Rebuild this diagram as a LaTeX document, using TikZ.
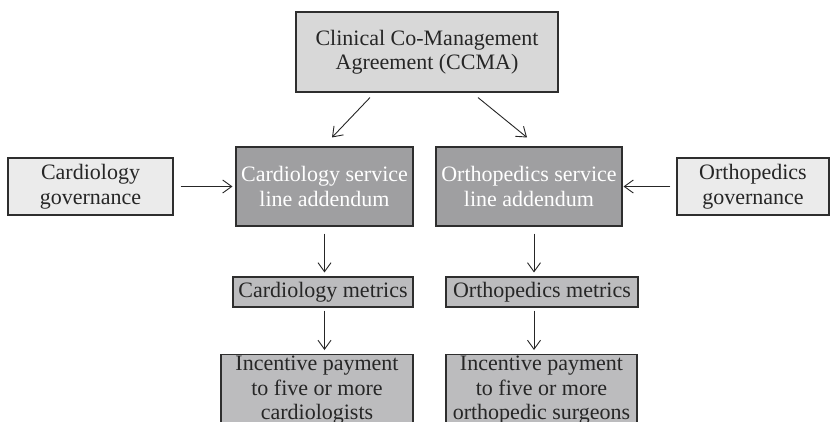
\documentclass[tikz,border=0pt]{standalone}
\usepackage{fontspec}
\setmainfont{Liberation Serif}
\usetikzlibrary{arrows.meta,calc}
\definecolor{boxline}{HTML}{2E2E2E}
\definecolor{topfill}{HTML}{D8D8D8}
\definecolor{govfill}{HTML}{EBEBEB}
\definecolor{addfill}{HTML}{9F9FA1}
\definecolor{metfill}{HTML}{BCBCBE}
\begin{document}
\begin{tikzpicture}[x=1pt,y=-1pt,
  every node/.style={font=\fontsize{22}{24.5}\selectfont},
  box/.style={draw=boxline,line width=1.1pt,align=center,inner sep=0pt,
    text=black!85},
  topbox/.style={box,fill=topfill},
  govbox/.style={box,fill=govfill},
  addbox/.style={box,fill=addfill,text=white},
  metbox/.style={box,fill=metfill},
  arr/.style={draw=black!85,line width=0.9pt,-{Straight Barb[length=9pt,width=13pt]}}]
\useasboundingbox (0,0) rectangle (835,421);
\clip (0,0) rectangle (835,421);
\fill[white] (0,0) rectangle (835,421);

% agreement at the top
\node[topbox,minimum width=262pt,minimum height=80pt] (ccma) at (427,52)
  {Clinical Co-Management\\Agreement (CCMA)};

% governance and service line addenda
\node[govbox,minimum width=165pt,minimum height=57pt] (cgov) at (90.5,186.5)
  {Cardiology\\governance};
\node[addbox,minimum width=177pt,minimum height=79pt] (cadd) at (324.5,186.5)
  {Cardiology service\\line addendum};
\node[addbox,minimum width=186pt,minimum height=79pt] (oadd) at (529,186.5)
  {Orthopedics service\\line addendum};
\node[govbox,minimum width=152pt,minimum height=57pt] (ogov) at (753,186.5)
  {Orthopedics\\governance};

% metrics
\node[metbox,minimum width=180pt,minimum height=30pt] (cmet) at (323,292)
  {Cardiology metrics};
\node[metbox,minimum width=192pt,minimum height=30pt] (omet) at (542,292)
  {Orthopedics metrics};

% incentive payments (running off the lower edge)
\node[metbox,minimum width=192pt,minimum height=86pt,anchor=north] (cinc) at (317,354)
  {};
\node[anchor=north,align=center,text=black!85,inner sep=0pt] (cinct) at (317,356)
  {Incentive payment\\to five or more\\cardiologists};
\node[metbox,minimum width=191pt,minimum height=86pt,anchor=north] (oinc) at (541.5,354)
  {};
\node[anchor=north,align=center,text=black!85,inner sep=0pt] (oinct) at (541.5,356)
  {Incentive payment\\to five or more\\orthopedic surgeons};

% connectors
\draw[arr] ([xshift=-57pt,yshift=-5pt]ccma.south) -- ([xshift=7.5pt,yshift=9pt]cadd.north);
\draw[arr] ([xshift=51pt,yshift=-5pt]ccma.south) -- ([xshift=-2pt,yshift=9pt]oadd.north);
\draw[arr,shorten <=7pt,shorten >=3pt] (cgov.east) -- (cadd.west);
\draw[arr,shorten <=6pt,shorten >=1pt] (ogov.west) -- (oadd.east);
\draw[arr,shorten <=7pt,shorten >=4pt] (cadd.south) -- (cadd.south |- cmet.north);
\draw[arr,shorten <=3pt,shorten >=4pt] (cadd.south |- cmet.south) -- (cadd.south |- cinc.north);
\draw[arr,shorten <=7pt,shorten >=4pt] ([xshift=5pt]oadd.south) -- ([xshift=5pt]oadd.south |- omet.north);
\draw[arr,shorten <=3pt,shorten >=4pt] ([xshift=5pt]oadd.south |- omet.south) -- ([xshift=5pt]oadd.south |- oinc.north);
\end{tikzpicture}
\end{document}
